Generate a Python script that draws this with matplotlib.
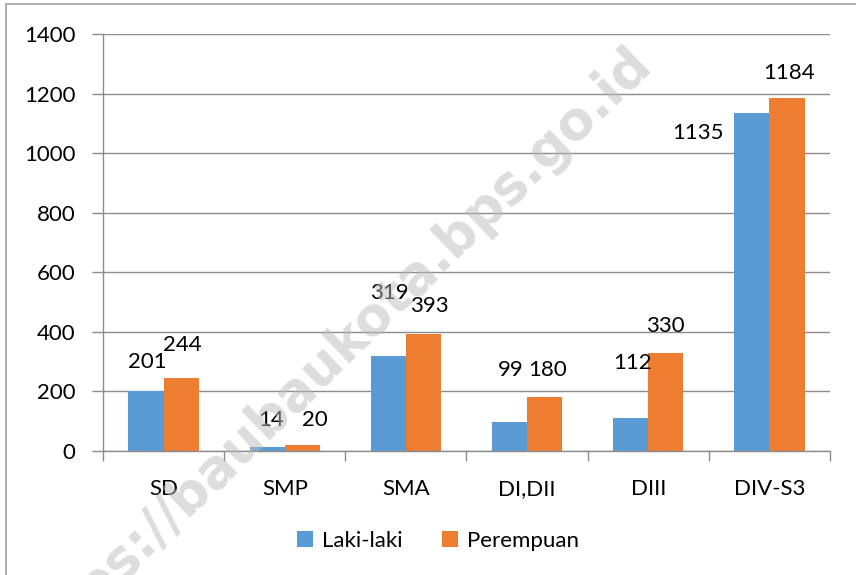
import numpy as np
import matplotlib.pyplot as plt
from matplotlib.lines import Line2D

# data
categories = ['SD', 'SMP', 'SMA', 'DI,DII', 'DIII', 'DIV-S3']
laki = [201, 14, 319, 99, 112, 1135]
perempuan = [244, 20, 393, 180, 330, 1184]

# label offsets in pixels (dx, dy) from bar top
laki_off = [(1, 29), (4, 27), (1, 63), (1, 52), (2, 55), (-54, -20)]
per_off = [(1, 33), (13, 25), (6, 28), (3, 27), (0, 27), (2, 25)]

plt.rcParams['font.family'] = ['Lato', 'DejaVu Sans']
blue = '#5B9BD5'
orange = '#ED7D31'
grid = '#8C8C8C'

fig = plt.figure(figsize=(8.56, 5.75), dpi=100)
ax = fig.add_axes([103/856, 1-451/575, (830-103)/856, (451-34)/575])

x = np.arange(len(categories))
w = 0.29
b1 = ax.bar(x - w/2, laki, w, color=blue, label='Laki-laki', zorder=2)
b2 = ax.bar(x + w/2, perempuan, w, color=orange, label='Perempuan', zorder=2)

for i in range(len(categories)):
    ax.annotate(str(laki[i]), (x[i] - w/2, laki[i]), xytext=laki_off[i],
                textcoords='offset pixels', ha='center', va='center', fontsize=16, zorder=4)
    ax.annotate(str(perempuan[i]), (x[i] + w/2, perempuan[i]), xytext=per_off[i],
                textcoords='offset pixels', ha='center', va='center', fontsize=16, zorder=4)

ax.set_xlim(-0.5, len(categories) - 0.5)
ax.set_ylim(0, 1400)
ax.set_yticks(range(0, 1401, 200))
ax.yaxis.grid(True, color=grid, linewidth=1, zorder=0)
ax.set_axisbelow(True)

ax.set_xticks(np.arange(-0.5, len(categories)), labels=[])
ax.set_xticks(x, labels=categories, minor=True)
ax.tick_params(axis='x', which='major', length=7, color=grid, width=1)
ax.tick_params(axis='x', which='minor', length=0, pad=20, labelsize=16)
ax.tick_params(axis='y', length=8, color=grid, width=1, pad=12, labelsize=16)

for s in ['top', 'right']:
    ax.spines[s].set_visible(False)
for s in ['left', 'bottom']:
    ax.spines[s].set_color(grid)
    ax.spines[s].set_linewidth(1)

fig.legend(handles=[b1, b2], loc='center', bbox_to_anchor=(438/856, 1-541/575),
           ncol=2, frameon=False, fontsize=16, handlelength=0.7, handleheight=0.7,
           handletextpad=0.4, columnspacing=1.8)

# outer chart border (left and top edges visible)
fig.lines.append(Line2D([6/856, 6/856, 1.0], [0.0, 1-4/575, 1-4/575],
                        transform=fig.transFigure, color='#A0A0A0', linewidth=1.2))

# watermark
fig.text(653/856, 1-66/575, 'https://baubaukota.bps.go.id', rotation=44,
         rotation_mode='anchor', ha='right', va='baseline', fontsize=38,
         fontweight='bold', color='#BBBBBB', alpha=0.5, zorder=10,
         family=['DejaVu Sans'])

fig.savefig('out.png', dpi=100)
